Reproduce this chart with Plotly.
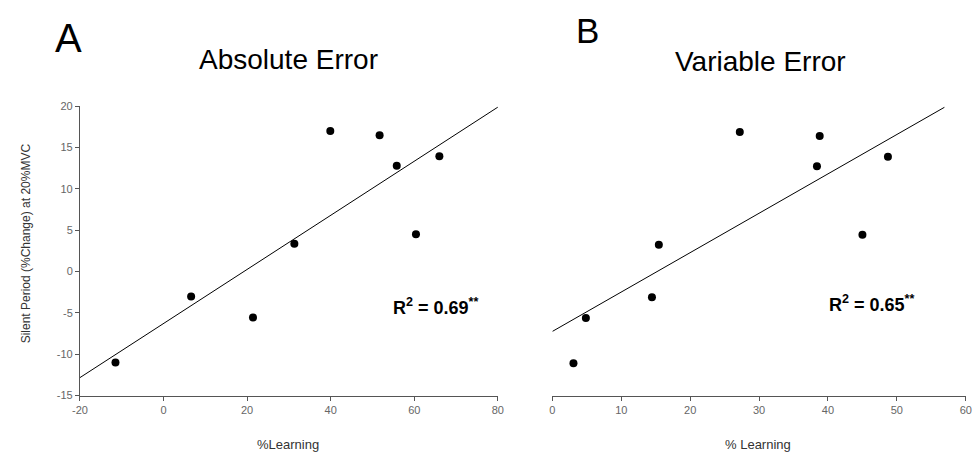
import plotly.graph_objects as go

# Panel A: Absolute Error
a_learning = [-11.5, 6.6, 21.4, 31.3, 39.9, 51.7, 55.8, 60.4, 66.0]
a_silent = [-11.0, -3.0, -5.56, 3.36, 17.0, 16.5, 12.8, 4.53, 13.96]
a_fit_x = [-20, 80]
a_fit_y = [-12.83, 19.9]

# Panel B: Variable Error
b_learning = [3.06, 4.86, 14.45, 15.45, 27.2, 38.4, 38.8, 45.0, 48.7]
b_silent = [-11.1, -5.63, -3.12, 3.24, 16.9, 12.74, 16.4, 4.45, 13.9]
b_fit_x = [0, 56.9]
b_fit_y = [-7.24, 19.88]

# Tick labels (hyphen-minus as in the reference)
y_tickvals = [-15, -10, -5, 0, 5, 10, 15, 20]
y_ticktext = ["-15", "-10", "-5", "0", "5", "10", "15", "20"]
a_x_tickvals = [-20, 0, 20, 40, 60, 80]
a_x_ticktext = ["-20", "0", "20", "40", "60", "80"]
b_x_tickvals = [0, 10, 20, 30, 40, 50, 60]
b_x_ticktext = ["0", "10", "20", "30", "40", "50", "60"]

W, H = 977, 459
FONT = "Liberation Sans, Arial, sans-serif"
AXC = "#555555"

fig = go.Figure()
fig.add_trace(go.Scatter(x=a_fit_x, y=a_fit_y, mode="lines",
                         line=dict(color="black", width=1), xaxis="x", yaxis="y", showlegend=False))
fig.add_trace(go.Scatter(x=a_learning, y=a_silent, mode="markers",
                         marker=dict(color="black", size=8), xaxis="x", yaxis="y", showlegend=False))
fig.add_trace(go.Scatter(x=b_fit_x, y=b_fit_y, mode="lines",
                         line=dict(color="black", width=1), xaxis="x2", yaxis="y2", showlegend=False))
fig.add_trace(go.Scatter(x=b_learning, y=b_silent, mode="markers",
                         marker=dict(color="black", size=8), xaxis="x2", yaxis="y2", showlegend=False))

def px(x):
    return x / W

def py(y):
    return 1 - y / H

ydom = [py(400), py(103)]
tickfont = dict(family=FONT, size=11, color="#666666")

axis_common = dict(showgrid=False, zeroline=False, showline=True, linecolor=AXC, linewidth=1,
                   ticks="outside", ticklen=4, tickcolor=AXC, tickfont=tickfont)

fig.update_layout(
    width=W, height=H,
    margin=dict(l=0, r=0, t=0, b=0),
    paper_bgcolor="white", plot_bgcolor="white",
    font=dict(family=FONT),
    xaxis=dict(domain=[px(73), px(497)], range=[-20, 80], tickmode="array",
               tickvals=a_x_tickvals, ticktext=a_x_ticktext, anchor="y", **axis_common),
    yaxis=dict(domain=ydom, range=[-15, 20], tickmode="array",
               tickvals=y_tickvals, ticktext=y_ticktext, anchor="x", **axis_common),
    xaxis2=dict(domain=[px(552.3), px(971.7)], range=[0, 60], tickmode="array",
                tickvals=b_x_tickvals, ticktext=b_x_ticktext, anchor="y2", **axis_common),
    yaxis2=dict(domain=ydom, range=[-15, 20], anchor="x2", showgrid=False, zeroline=False,
                showline=False, showticklabels=False, ticks=""),
    showlegend=False,
)

ann = [
    dict(text="A", x=px(61), y=py(33), size=40),
    dict(text="Absolute Error", x=px(285), y=py(55), size=28),
    dict(text="B", x=px(588), y=py(25), size=35),
    dict(text="Variable Error", x=px(763), y=py(57), size=28),
    dict(text="<b>R<sup>2</sup> = 0.69<sup>**</sup></b>", x=px(434), y=py(309), size=18),
    dict(text="<b>R<sup>2</sup> = 0.65<sup>**</sup></b>", x=px(876), y=py(305), size=18),
    dict(text="%Learning", x=px(284), y=py(450), size=13, color="#333333"),
    dict(text="% Learning", x=px(761), y=py(450), size=13, color="#333333"),
]
for a in ann:
    fig.add_annotation(text=a["text"], x=a["x"], y=a["y"], xref="paper", yref="paper",
                       xanchor="center", yanchor="middle", showarrow=False,
                       font=dict(family=FONT, size=a["size"], color=a.get("color", "black")))

fig.add_annotation(text="Silent Period (%Change) at 20%MVC", x=px(18.5), y=py(243.5),
                   xref="paper", yref="paper", xanchor="center", yanchor="middle",
                   showarrow=False, textangle=-90,
                   font=dict(family=FONT, size=12, color="#333333"))

fig.write_html("out.html")
